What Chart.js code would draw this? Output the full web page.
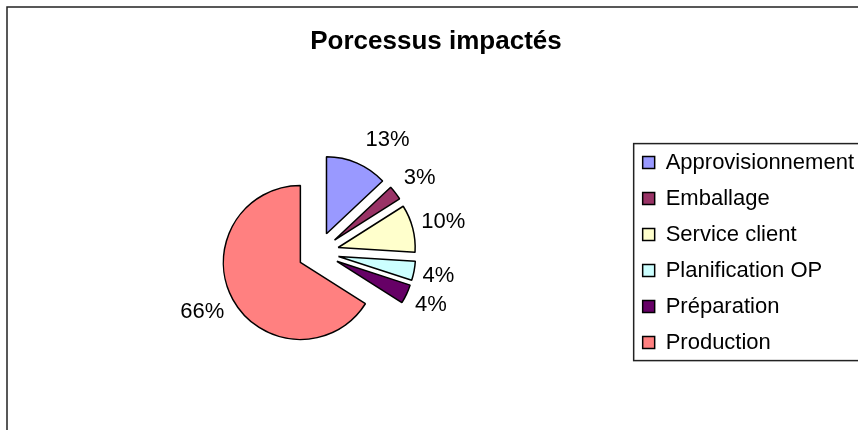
<!DOCTYPE html>
<html lang="fr">
<head>
<meta charset="utf-8">
<title>Porcessus impactés</title>
<script src="https://cdn.jsdelivr.net/npm/chart.js@4.4.1/dist/chart.umd.min.js"></script>
<style>
  html, body { margin: 0; padding: 0; background: #fff; overflow: hidden; }
  #wrap { width: 858px; height: 430px; overflow: hidden; }
  #box { width: 880px; height: 430px; }
</style>
</head>
<body>
<div id="wrap"><div id="box"><canvas id="pie"></canvas></div></div>
<script>
const chartTitle = "Porcessus impactés";
const labels = ["Approvisionnement", "Emballage", "Service client", "Planification OP", "Préparation", "Production"];
const values = [13, 3, 10, 4, 4, 66];
const colors = ["#9999FF", "#993366", "#FFFFCC", "#CCFFFF", "#660066", "#FF8080"];

const FONT = "'Liberation Sans', Arial, sans-serif";
const EXPLODE = 20.5;    // px each slice is pulled out from the centre

Chart.defaults.font.family = FONT;
Chart.defaults.color = "#000";

// chart frame + box round the legend (both run off the right edge, as in the original)
const frames = {
  id: "frames",
  beforeDraw(chart) {
    const ctx = chart.ctx;
    ctx.save();
    ctx.strokeStyle = "#222";
    ctx.lineWidth = 1.5;
    ctx.strokeRect(7, 7, chart.width + 20, chart.height + 20);
    ctx.restore();
  },
  afterDraw(chart) {
    const lg = chart.legend;
    const boxes = lg.legendHitBoxes;
    if (!boxes || !boxes.length) return;
    const last = boxes[boxes.length - 1];
    const top = boxes[0].top - 8;
    const bottom = last.top + last.height + 7;
    const ctx = chart.ctx;
    ctx.save();
    ctx.strokeStyle = "#222";
    ctx.lineWidth = 1.5;
    ctx.strokeRect(lg.left + 5, top, lg.width + 20, bottom - top);
    ctx.restore();
  }
};

// pull every slice out along its bisector (Excel "exploded pie")
const explode = {
  id: "explode",
  afterUpdate(chart) {
    chart.getDatasetMeta(0).data.forEach(arc => {
      if (arc._exploded) return;
      const draw = arc.draw;
      arc.draw = function (ctx, area) {
        const mid = (this.startAngle + this.endAngle) / 2;
        ctx.save();
        ctx.translate(Math.cos(mid) * EXPLODE, Math.sin(mid) * EXPLODE);
        draw.call(this, ctx, area);
        ctx.restore();
      };
      arc._exploded = true;
    });
  }
};

// percentages just outside each slice, Excel style
const pctLabels = {
  id: "pctLabels",
  afterDatasetsDraw(chart) {
    const ctx = chart.ctx;
    const total = values.reduce((a, b) => a + b, 0);
    ctx.save();
    ctx.font = `22px ${FONT}`;
    ctx.fillStyle = "#000";
    ctx.textAlign = "center";
    ctx.textBaseline = "middle";
    chart.getDatasetMeta(0).data.forEach((arc, i) => {
      const mid = (arc.startAngle + arc.endAngle) / 2;
      const cx = Math.cos(mid), cy = Math.sin(mid);
      const text = Math.round(values[i] / total * 100) + "%";
      const w = ctx.measureText(text).width;
      const d = EXPLODE + arc.outerRadius;
      const ax = arc.x + cx * d, ay = arc.y + cy * d;
      ctx.fillText(text, ax + Math.sign(cx) * (8.5 + w / 2), ay + cy * 25);
    });
    ctx.restore();
  }
};

new Chart(document.getElementById("pie"), {
  type: "pie",
  data: {
    labels,
    datasets: [{
      data: values,
      backgroundColor: colors,
      borderColor: "#000",
      borderWidth: 1.5,
      radius: 77
    }]
  },
  options: {
    responsive: true,
    maintainAspectRatio: false,
    animation: false,
    events: [],
    layout: { padding: { left: 8, right: 16, top: 0, bottom: 6 } },
    plugins: {
      title: {
        display: true,
        text: chartTitle,
        color: "#000",
        font: { size: 26, weight: "bold" },
        padding: { top: 26, bottom: 24 }
      },
      legend: {
        position: "right",
        fullSize: false,
        labels: {
          color: "#000",
          font: { size: 22 },
          boxWidth: 12,
          boxHeight: 12,
          padding: 14
        }
      },
      tooltip: { enabled: false }
    }
  },
  plugins: [frames, explode, pctLabels]
});
</script>
</body>
</html>
